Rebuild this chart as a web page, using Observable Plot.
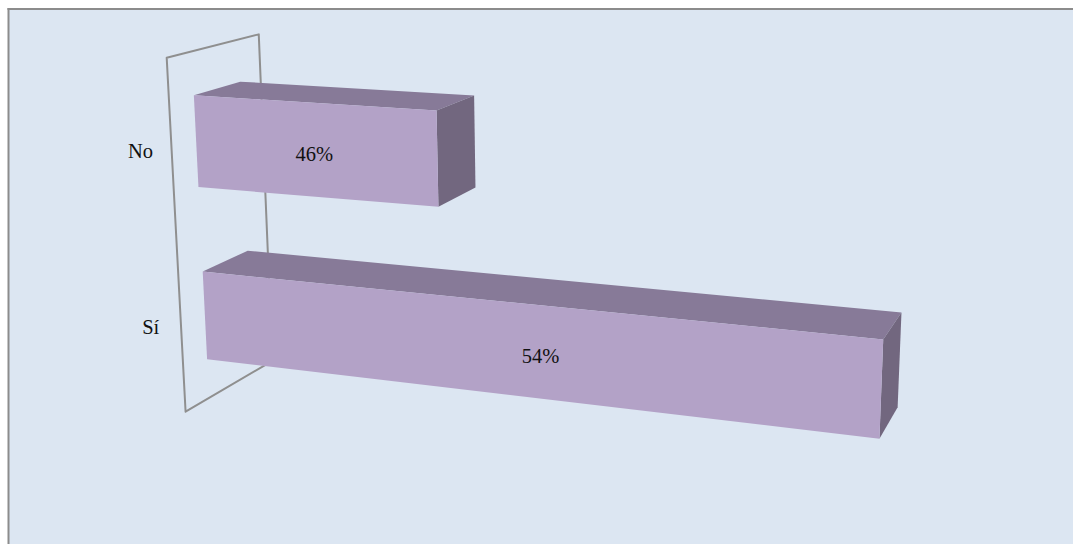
<!DOCTYPE html>
<html>
<head>
<meta charset="utf-8">
<script src="https://cdn.jsdelivr.net/npm/d3@7"></script>
<script src="https://cdn.jsdelivr.net/npm/@observablehq/plot@0.6"></script>
<style>
html,body{margin:0;padding:0;background:#fff}
svg{display:block}
</style>
</head>
<body>
<div id="chart"></div>
<script>
const categories = ["No", "Sí"];
const values = [46, 54];
const valueLabels = ["46%", "54%"];

// Value axis and category axis, in the chart's own 3D box.
const valueScale = Plot.scale({x: {type: "linear", domain: [41.1, 54], range: [0, -0.1316]}});
const categoryScale = Plot.scale({y: {type: "band", domain: categories, range: [0, 1.006], paddingInner: 0.485, paddingOuter: 0.2425, round: false}});
const categoryLabelScale = Plot.scale({y: {type: "point", domain: categories, range: [0.2268, 0.7102], padding: 0, round: false}});
const barDepth = [0.254, 0.763];
const wallDepth = [0, 1];
const wallSpan = [0, 1];
const labelDepth = -0.3;
const axisBase = valueScale.domain[0];

// Perspective camera: origin + three vanishing points of the 3D box.
const origin = [166.2, 57.2];
const vanishX = [-4560, -204];
const vanishY = [590, 8000];
const vanishZ = [1260, -220];
const pullY = 0.04665, pullZ = 0.0919;

function project(A, Y, Z) {
  const b = pullY * Y, c = pullZ * Z;
  const w = 1 + A + b + c;
  return [
    (origin[0] + A * vanishX[0] + b * vanishY[0] + c * vanishZ[0]) / w,
    (origin[1] + A * vanishX[1] + b * vanishY[1] + c * vanishZ[1]) / w
  ];
}
const at = (value, Y, Z) => project(valueScale.apply(value), Y, Z);

function face(id, corners) {
  return corners.map(([v, Y, Z]) => {
    const [u, t] = at(v, Y, Z);
    return {id, u, t};
  });
}

const fronts = [], tops = [], sides = [], barLabels = [], catLabels = [];
categories.forEach((cat, i) => {
  const v = values[i];
  const y0 = categoryScale.apply(cat);
  const y1 = y0 + categoryScale.bandwidth;
  const [z0, z1] = barDepth;
  const front = face(cat, [[axisBase, y0, z0], [v, y0, z0], [v, y1, z0], [axisBase, y1, z0]]);
  fronts.push(...front);
  tops.push(...face(cat, [[axisBase, y0, z0], [axisBase, y0, z1], [v, y0, z1], [v, y0, z0]]));
  sides.push(...face(cat, [[v, y0, z0], [v, y0, z1], [v, y1, z1], [v, y1, z0]]));
  barLabels.push({u: d3.mean(front, d => d.u), t: d3.mean(front, d => d.t), text: valueLabels[i]});
  const [cu, ct] = at(axisBase, categoryLabelScale.apply(cat), labelDepth);
  catLabels.push({u: cu, t: ct, text: cat});
});
const wall = face("wall", [
  [axisBase, wallSpan[0], wallDepth[0]],
  [axisBase, wallSpan[0], wallDepth[1]],
  [axisBase, wallSpan[1], wallDepth[1]],
  [axisBase, wallSpan[1], wallDepth[0]]
]);

const common = {x: "u", y: "t", z: "id", curve: "linear-closed"};
const textStyle = {fontFamily: "Liberation Serif", fontSize: 20.5, fill: "#111"};

const plot = Plot.plot({
  width: 1073,
  height: 544,
  marginLeft: 8,
  marginTop: 8.5,
  marginRight: 0,
  marginBottom: 0,
  x: {type: "identity", axis: null},
  y: {type: "identity", axis: null},
  style: {background: "#ffffff"},
  marks: [
    Plot.frame({fill: "#DCE6F2", stroke: "none"}),
    Plot.frame({anchor: "left", stroke: "#8c8c8c", strokeWidth: 2}),
    Plot.frame({anchor: "top", stroke: "#8c8c8c", strokeWidth: 2}),
    Plot.line(wall, {...common, stroke: "#8f8f8f", strokeWidth: 2, fill: "none"}),
    Plot.line(tops, {...common, fill: "#877a98", stroke: "none"}),
    Plot.line(sides, {...common, fill: "#72677f", stroke: "none"}),
    Plot.line(fronts, {...common, fill: "#B3A2C7", stroke: "none"}),
    Plot.text(barLabels, {x: "u", y: "t", text: "text", dx: -2.5, dy: 4, ...textStyle}),
    Plot.text(catLabels, {x: "u", y: "t", text: "text", ...textStyle})
  ]
});
document.getElementById("chart").appendChild(plot);
</script>
</body>
</html>
